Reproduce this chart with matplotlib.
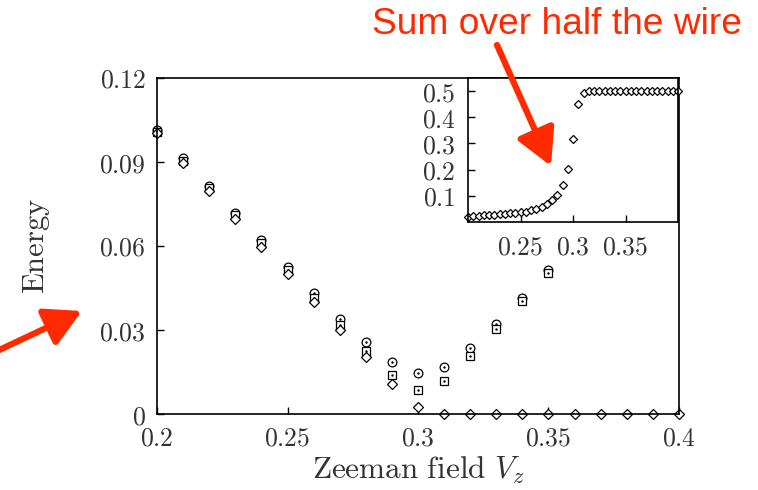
import numpy as np
import matplotlib.pyplot as plt

plt.rcParams['mathtext.fontset'] = 'cm'
plt.rcParams['font.family'] = 'DejaVu Serif'

# main panel: energies vs Zeeman field
vz = [0.20, 0.21, 0.22, 0.23, 0.24, 0.25, 0.26, 0.27, 0.28, 0.29, 0.30,
      0.31, 0.32, 0.33, 0.34, 0.35]
e_circle = [0.1015, 0.0913, 0.0816, 0.0718, 0.0620, 0.0525, 0.0432, 0.0341,
            0.0258, 0.0186, 0.0147, 0.0167, 0.0236, 0.0321, 0.0416, 0.0513]
e_square = [0.1008, 0.0905, 0.0808, 0.0709, 0.0610, 0.0513, 0.0416, 0.0317,
            0.0226, 0.0140, 0.0086, 0.0119, 0.0207, 0.0302, 0.0404, 0.0503]
vz_d = [0.20, 0.21, 0.22, 0.23, 0.24, 0.25, 0.26, 0.27, 0.28, 0.29, 0.30,
        0.31, 0.32, 0.33, 0.34, 0.35, 0.36, 0.37, 0.38, 0.39, 0.40]
e_diamond = [0.1002, 0.0897, 0.0798, 0.0697, 0.0598, 0.0501, 0.0400, 0.0299,
             0.0202, 0.0107, 0.0026, 0, 0, 0, 0, 0, 0, 0, 0, 0, 0]

# inset: sum over half the wire
vz_in = [0.200, 0.205, 0.210, 0.215, 0.220, 0.225, 0.230, 0.235, 0.240, 0.245,
         0.250, 0.255, 0.260, 0.265, 0.270, 0.275, 0.280, 0.285, 0.290, 0.295,
         0.300, 0.305, 0.310, 0.315, 0.320, 0.325, 0.330, 0.335, 0.340, 0.345,
         0.350, 0.355, 0.360, 0.365, 0.370, 0.375, 0.380, 0.385, 0.390, 0.395,
         0.400]
s_in = [0.021, 0.022, 0.024, 0.025, 0.026, 0.028, 0.029, 0.030, 0.033, 0.034,
        0.037, 0.040, 0.044, 0.049, 0.056, 0.068, 0.084, 0.103, 0.140, 0.204,
        0.317, 0.449, 0.491, 0.499, 0.5, 0.5, 0.5, 0.5, 0.5, 0.5,
        0.5, 0.5, 0.5, 0.5, 0.5, 0.5, 0.5, 0.5, 0.5, 0.5, 0.5]

txt = '#333333'
red = '#ff2a00'

fig = plt.figure(figsize=(7.58, 4.90), dpi=100)
ax = fig.add_axes([157/758, 1-414/490, 522/758, 336/490])

mk = dict(linestyle='none', mfc='white', mec='black', mew=0.9, clip_on=False)
ax.plot(vz, e_circle, marker='o', ms=6.3, **mk)
ax.plot(vz, e_circle, marker='.', ms=1.5, color='black', linestyle='none')
ax.plot(vz, e_square, marker='s', ms=5.7, **mk)
ax.plot(vz, e_square, marker='.', ms=1.5, color='black', linestyle='none')
ax.plot(vz_d, e_diamond, marker='D', ms=4.6, **mk)

ax.set_xlim(0.2, 0.4)
ax.set_ylim(0, 0.12)
ax.set_xticks([0.2, 0.25, 0.3, 0.35, 0.4])
ax.set_xticklabels(['$0.2$', '$0.25$', '$0.3$', '$0.35$', '$0.4$'])
ax.set_yticks([0, 0.03, 0.06, 0.09, 0.12])
ax.set_yticklabels(['$0$', '$0.03$', '$0.06$', '$0.09$', '$0.12$'])
ax.tick_params(direction='in', length=5, width=1, labelsize=18.5,
               labelcolor=txt, pad=8)
for s in ax.spines.values():
    s.set_linewidth(1.2)
ax.set_xlabel(r'$\mathrm{Zeeman\ field}\ V_z$', fontsize=22.5, color=txt,
              labelpad=3)
ax.set_ylabel(r'$\mathrm{Energy}$', fontsize=22, color=txt, labelpad=34)

# inset
ins = fig.add_axes([468/758, 1-222/490, 210/758, 144/490])
ins.plot(vz_in, s_in, marker='D', ms=4.3, **mk)
ins.set_xlim(0.2, 0.4)
ins.set_ylim(0, 0.55)
ins.set_xticks([0.25, 0.3, 0.35])
ins.set_xticklabels(['$0.25$', '$0.3$', '$0.35$'])
ins.set_yticks([0.1, 0.2, 0.3, 0.4, 0.5])
ins.set_yticklabels(['$0.1$', '$0.2$', '$0.3$', '$0.4$', '$0.5$'])
ins.tick_params(direction='in', length=5, width=1, labelsize=18.5,
                labelcolor=txt, pad=9)
for s in ins.spines.values():
    s.set_linewidth(1.2)

fig.text(372/758, 1-24/490, 'Sum over half the wire', color=red,
         fontsize=26.7, family='Liberation Sans', va='center', ha='left')

fig.patches.append(plt.matplotlib.patches.FancyArrowPatch(
    (497/758, 1-45/490), (551/758, 1-166/490), transform=fig.transFigure,
    arrowstyle='-|>,head_length=22,head_width=12', lw=4.5, color=red,
    shrinkA=0, shrinkB=0))
fig.patches.append(plt.matplotlib.patches.FancyArrowPatch(
    (-5/758, 1-352/490), (82/758, 1-311/490), transform=fig.transFigure,
    arrowstyle='-|>,head_length=22,head_width=12', lw=4.5, color=red,
    shrinkA=0, shrinkB=0))

fig.savefig('out.png', dpi=100)
